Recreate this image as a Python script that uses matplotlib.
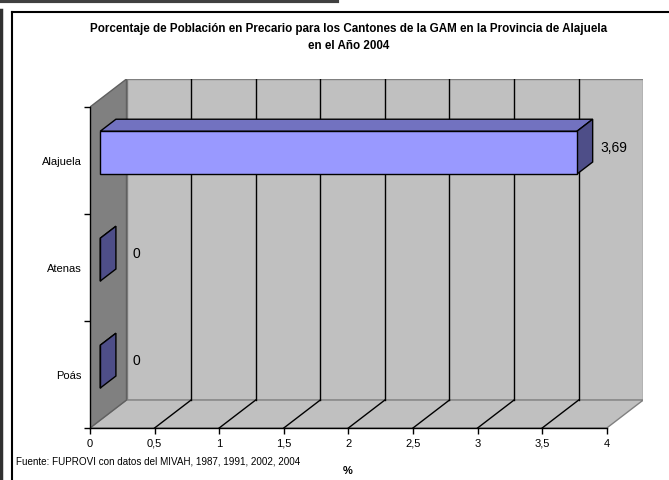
import matplotlib
matplotlib.use("Agg")
import matplotlib.pyplot as plt
from matplotlib.patches import Polygon
from matplotlib.lines import Line2D
from matplotlib.ticker import FuncFormatter

plt.rcParams['font.family'] = ['Liberation Sans', 'DejaVu Sans']

# data
cantones = ["Poás", "Atenas", "Alajuela"]
valores = [0.0, 0.0, 3.69]
etiquetas = ["0", "0", "3,69"]
x_ticks = [0, 0.5, 1, 1.5, 2, 2.5, 3, 3.5, 4]

titulo = ("Porcentaje de Población en Precario para los Cantones de la GAM en la Provincia de Alajuela\n"
          "en el Año 2004")
fuente = "Fuente: FUPROVI con datos del MIVAH, 1987, 1991, 2002, 2004"

# oblique projection used to fake the 3D look
W, H = 669, 481
PX_X = 129.2          # pixels per % unit
PX_Y = 107.0          # pixels per category
DX = 36.5 / PX_X      # depth shift along x (data units)
DY = 28.0 / PX_Y      # depth shift along y (data units)
XMAX = 4
D0, D1 = 0.28, 0.71   # bar depth inside the box
HALF = 0.2            # half bar height


def P(x, y, d):
    return (x + d * DX, y + d * DY)


fig = plt.figure(figsize=(W / 100, H / 100), dpi=100)

# axes placed so that value 0 sits at px 90 and the floor edge at px 429
left_px, floor_px = 90, 429
ax_w = (XMAX + DX) * PX_X
ax_h = (3 + DY) * PX_Y
ax = fig.add_axes([left_px / W, (H - floor_px) / H, ax_w / W, ax_h / H])
ax.set_xlim(0, XMAX + DX)
ax.set_ylim(-0.5, 2.5 + DY)
ax.patch.set_alpha(0)

ybot, ytop = -0.5, 2.5
wall = "#c0c0c0"
side = "#808080"

# back wall
ax.add_patch(Polygon([P(0, ybot, 1), P(XMAX, ybot, 1), P(XMAX, ytop, 1), P(0, ytop, 1)],
                     closed=True, facecolor=wall, edgecolor=side, lw=1, zorder=1))
# floor
ax.add_patch(Polygon([P(0, ybot, 0), P(XMAX, ybot, 0), P(XMAX, ybot, 1), P(0, ybot, 1)],
                     closed=True, facecolor=wall, edgecolor=side, lw=1, zorder=1))
# left wall
ax.add_patch(Polygon([P(0, ybot, 0), P(0, ybot, 1), P(0, ytop, 1), P(0, ytop, 0)],
                     closed=True, facecolor=side, edgecolor="#606060", lw=1, zorder=1))

# gridlines on back wall and floor
for v in x_ticks[1:-1]:
    xb, yb = P(v, ybot, 1)
    ax.plot([xb, xb], [yb, P(v, ytop, 1)[1]], color="black", lw=1, zorder=2)
    xf, yf = P(v, ybot, 0)
    ax.plot([xf, xb], [yf, yb], color="black", lw=1, zorder=2)

# bars
front_c, top_c, side_c = "#9999ff", "#7272c0", "#4e4e88"
for i, (v, lab) in enumerate(zip(valores, etiquetas)):
    y0, y1 = i - HALF, i + HALF
    top = [P(0, y1, D0), P(v, y1, D0), P(v, y1, D1), P(0, y1, D1)]
    rside = [P(v, y0, D0), P(v, y1, D0), P(v, y1, D1), P(v, y0, D1)]
    front = [P(0, y0, D0), P(v, y0, D0), P(v, y1, D0), P(0, y1, D0)]
    for pts, c in ((top, top_c), (rside, side_c), (front, front_c)):
        ax.add_patch(Polygon(pts, closed=True, facecolor=c, edgecolor="black",
                             lw=1, joinstyle="miter", zorder=3))
    ax.annotate(lab, P(v, i, 0.5), xytext=(20.5, 0), textcoords="offset points",
                ha="center", va="center", fontsize=10, zorder=4)

# axes decoration
for s in ("top", "right"):
    ax.spines[s].set_visible(False)
ax.spines["bottom"].set_bounds(0, XMAX)
ax.spines["left"].set_bounds(ybot, ytop)
for s in ("bottom", "left"):
    ax.spines[s].set_linewidth(1)
    ax.spines[s].set_zorder(5)

ax.set_xticks(x_ticks)
ax.xaxis.set_major_formatter(FuncFormatter(lambda v, p: f"{v:g}".replace(".", ",")))
ax.tick_params(axis="x", direction="out", length=4, width=1, pad=3, labelsize=8)

ax.set_yticks([-0.5, 0.5, 1.5, 2.5])
ax.set_yticklabels([])
ax.set_yticks(range(len(cantones)), minor=True)
ax.set_yticklabels(cantones, minor=True)
ax.tick_params(axis="y", which="major", direction="out", length=4.5, width=1)
ax.tick_params(axis="y", which="minor", length=0, pad=6, labelsize=8)

ax.set_xlabel("%", fontsize=8, fontweight="bold")
ax.xaxis.set_label_coords(((348 - left_px) / ax_w), -(466 - floor_px) / ax_h)

# title, source and chart frame
fig.text(349 / W, 1 - 37.5 / H, titulo, ha="center", va="center", fontsize=8.4,
         fontweight="bold", linespacing=1.55)
fig.text(16 / W, 1 - 462 / H, fuente, ha="left", va="center", fontsize=7.1)

fig.add_artist(Line2D([12 / W, 1], [1 - 13 / H, 1 - 13 / H], color="black", lw=1.5))
fig.add_artist(Line2D([12 / W, 12 / W], [0, 1 - 13 / H], color="black", lw=1.5))
fig.add_artist(Line2D([1 / W, 1 / W], [0, 1 - 11 / H], color="#303030", lw=2.5))
fig.add_artist(Line2D([0, 337 / W], [1 - 1.5 / H, 1 - 1.5 / H], color="#404040", lw=3))

fig.savefig("out.png", dpi=100)
